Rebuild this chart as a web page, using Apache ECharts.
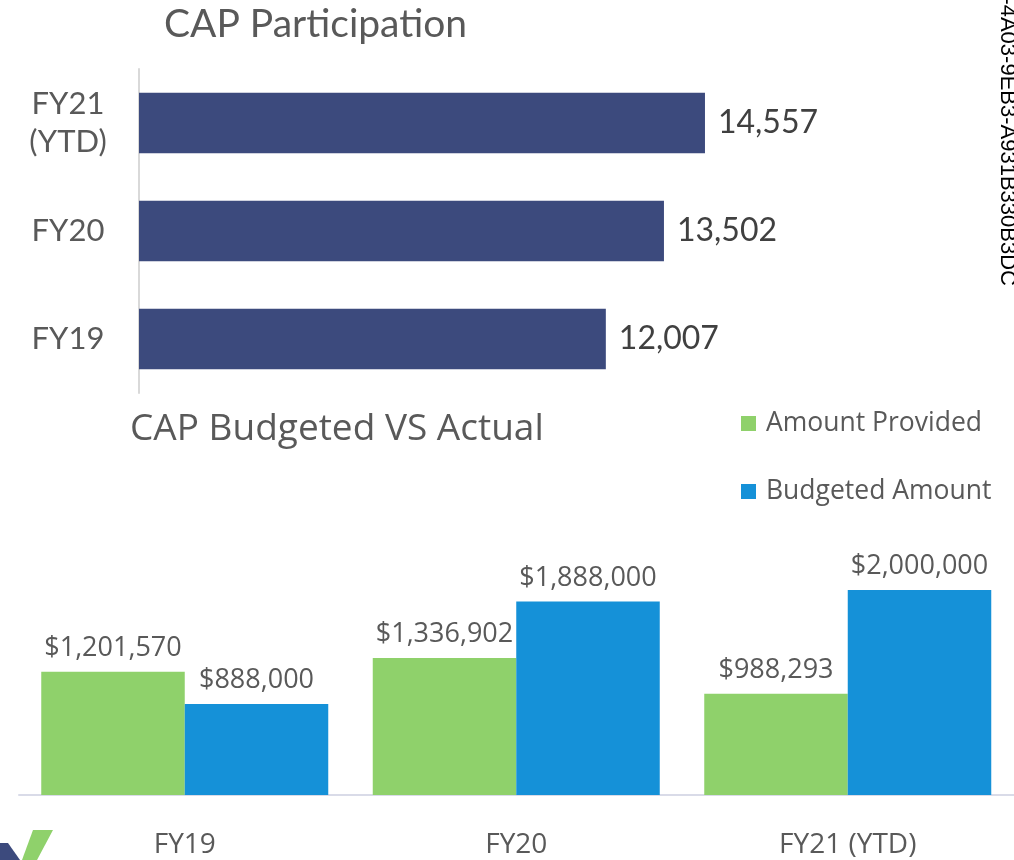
<!DOCTYPE html>
<html>
<head>
<meta charset="utf-8">
<script src="https://cdn.jsdelivr.net/npm/echarts@6/dist/echarts.min.js"></script>
<style>
  html, body { margin: 0; padding: 0; background: #fff; }
  #chart { width: 1014px; height: 860px; }
</style>
</head>
<body>
<div id="chart"></div>
<script>
// top chart: participation
const partCategories = ['FY19', 'FY20', 'FY21\n(YTD)']
const partValues = [12007, 13502, 14557]

// bottom chart: budget vs actual
const budgetCategories = ['FY19', 'FY20', 'FY21 (YTD)']
const providedValues = [1201570, 1336902, 988293]
const budgetedValues = [888000, 1888000, 2000000]

const NAVY = '#3c4a7d'
const GREEN = '#8fd16b'
const BLUE = '#1591d8'
const GREY_TEXT = '#595959'

const chart = echarts.init(document.getElementById('chart'))

const money = v => '$' + v.toLocaleString('en-US')

chart.setOption({
  animation: false,
  title: [
    {
      text: 'CAP Participation',
      left: 159, top: 0,
      textStyle: { color: GREY_TEXT, fontSize: 39, fontWeight: 'normal', fontFamily: 'Lato' }
    },
    {
      text: 'CAP Budgeted VS Actual',
      left: 125, top: 406,
      textStyle: { color: GREY_TEXT, fontSize: 37, fontWeight: 'normal', fontFamily: 'Open Sans' }
    }
  ],
  legend: {
    data: ['Amount Provided', 'Budgeted Amount'],
    orient: 'vertical',
    left: 736, top: 405,
    itemWidth: 15, itemHeight: 15, itemGap: 41,
    icon: 'rect',
    textStyle: { color: GREY_TEXT, fontSize: 26.5, fontFamily: 'Open Sans', padding: [0, 0, 0, 5] }
  },
  grid: [
    { left: 139, top: 69, width: 777.6, height: 324 },
    { left: 19, right: 0.5, top: 487.5, height: 307.5 }
  ],
  xAxis: [
    {
      gridIndex: 0, type: 'value', min: 0, max: 20000, show: false
    },
    {
      gridIndex: 1, type: 'category', data: budgetCategories,
      axisLine: { lineStyle: { color: '#d9dbe8', width: 2 } },
      axisTick: { show: false },
      axisLabel: { color: GREY_TEXT, fontSize: 28, fontFamily: 'Open Sans', margin: 36 }
    }
  ],
  yAxis: [
    {
      gridIndex: 0, type: 'category', data: partCategories,
      axisLine: { lineStyle: { color: '#d9d9d9', width: 2 } },
      axisTick: { show: false },
      axisLabel: {
        color: GREY_TEXT, fontSize: 31, fontFamily: 'Lato', align: 'center', margin: 71, lineHeight: 38
      }
    },
    {
      gridIndex: 1, type: 'value', min: 0, max: 3000000, show: false
    }
  ],
  series: [
    {
      type: 'bar',
      xAxisIndex: 0, yAxisIndex: 0,
      data: partValues,
      barCategoryGap: '44%',
      itemStyle: { color: NAVY },
      label: {
        show: true, position: 'right', distance: 13,
        color: '#404040', fontSize: 32, fontFamily: 'Lato',
        formatter: p => p.value.toLocaleString('en-US')
      }
    },
    {
      name: 'Amount Provided',
      type: 'bar',
      xAxisIndex: 1, yAxisIndex: 1,
      data: providedValues,
      barWidth: 143.5, barGap: '0%',
      itemStyle: { color: GREEN },
      label: {
        show: true, position: 'top', distance: 10,
        color: GREY_TEXT, fontSize: 27, fontFamily: 'Open Sans',
        formatter: p => money(p.value)
      }
    },
    {
      name: 'Budgeted Amount',
      type: 'bar',
      xAxisIndex: 1, yAxisIndex: 1,
      data: budgetedValues,
      barWidth: 143.5, barGap: '0%',
      itemStyle: { color: BLUE },
      label: {
        show: true, position: 'top', distance: 10,
        color: GREY_TEXT, fontSize: 27, fontFamily: 'Open Sans',
        formatter: p => money(p.value)
      }
    }
  ],
  graphic: [
    // clipped id string on the right edge
    {
      type: 'text',
      x: 996, y: 286,
      rotation: -Math.PI / 2,
      style: {
        text: '0-4A03-9EB3-A931B330B3DC',
        fill: '#000', fontSize: 22, fontFamily: 'Liberation Sans',
        textAlign: 'right', textVerticalAlign: 'bottom'
      }
    },
    // partial logo at bottom left
    {
      type: 'polygon',
      shape: { points: [[0, 843], [8, 843], [20, 860], [0, 860]] },
      style: { fill: NAVY }
    },
    {
      type: 'polygon',
      shape: { points: [[33, 830], [53, 830], [37, 860], [22, 860]] },
      style: { fill: GREEN }
    }
  ]
})
</script>
</body>
</html>
